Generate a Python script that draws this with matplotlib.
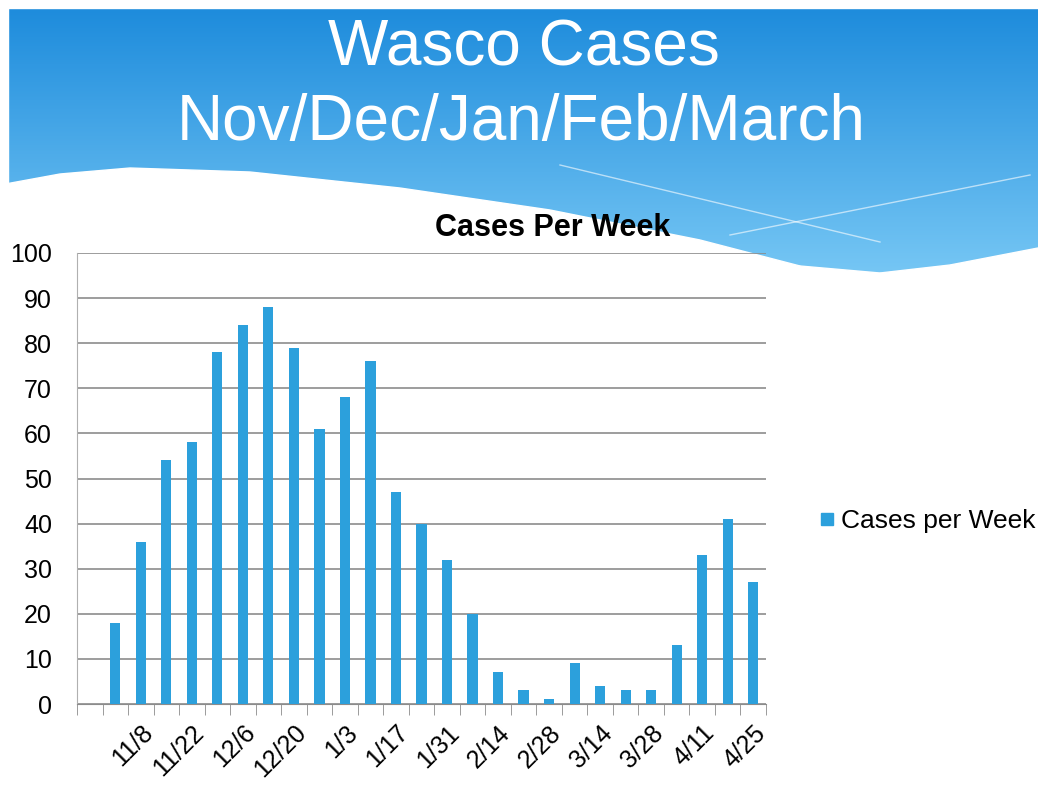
import numpy as np
import matplotlib.pyplot as plt
from matplotlib.lines import Line2D

plt.rcParams['font.family'] = ['Liberation Sans', 'DejaVu Sans']

# weekly data (first slot is empty in the source chart)
weeks = ["", "11/1", "11/8", "11/15", "11/22", "11/29", "12/6", "12/13", "12/20",
         "12/27", "1/3", "1/10", "1/17", "1/24", "1/31", "2/7", "2/14", "2/21",
         "2/28", "3/7", "3/14", "3/21", "3/28", "4/4", "4/11", "4/18", "4/25"]
cases = [0, 18, 36, 54, 58, 78, 84, 88, 79, 61, 68, 76, 47, 40, 32, 20, 7, 3,
         1, 9, 4, 3, 3, 13, 33, 41, 27]
yticks = [0, 10, 20, 30, 40, 50, 60, 70, 80, 90, 100]

W, H = 1038, 787
fig = plt.figure(figsize=(W / 100, H / 100), dpi=100)

# ---- slide background ----
bg = fig.add_axes([0, 0, 1, 1])
bg.set_xlim(0, W)
bg.set_ylim(H, 0)
bg.axis('off')

yy, xx = np.mgrid[0:H, 0:W]
top = np.array([30, 140, 220]) / 255
bot = np.array([120, 200, 245]) / 255
t = np.clip((yy - 10) / 270.0, 0, 1)[..., None]
grad = top * (1 - t) + bot * t
bg.imshow(grad, extent=[0, W, H, 0], aspect='auto', zorder=0)

wx = np.array([0, 60, 130, 250, 400, 550, 700, 800, 880, 950, 1038])
wy = np.array([185, 174, 168, 172, 188, 210, 240, 266, 273, 265, 248])
xs = np.linspace(0, W, 400)
ys = np.interp(xs, wx, wy)
bg.fill_between(xs, ys, H, color='white', zorder=1)
# slide frame edges
bg.fill_between([0, W], 0, 8, color='white', zorder=2)
bg.fill_between([0, 8], 0, H, color='white', zorder=2)
# faint crossing lines on the right
bg.plot([560, 880], [165, 242], color='white', lw=1, alpha=0.6, zorder=2)
bg.plot([730, 1030], [235, 175], color='white', lw=1, alpha=0.6, zorder=2)

fig.text(0.505, 1 - 48 / H, "Wasco Cases", color='white', fontsize=46,
         ha='center', va='center')
fig.text(0.502, 1 - 123 / H, "Nov/Dec/Jan/Feb/March", color='white', fontsize=46,
         ha='center', va='center')

# ---- chart ----
ax = fig.add_axes([77 / W, 1 - 704 / H, 689 / W, 451 / H])
ax.patch.set_alpha(0)
x = np.arange(len(weeks))
ax.bar(x, cases, width=0.4, color='#2ca0dc', zorder=3, label='Cases per Week')

ax.set_xlim(-0.5, len(weeks) - 0.5)
ax.set_ylim(0, 100)
ax.set_yticks(yticks)
ax.tick_params(axis='y', length=0, labelsize=18, pad=18)
ax.yaxis.grid(True, color='#8c8c8c', lw=1.2, zorder=0)

ax.set_xticks(x[2::2])
ax.set_xticklabels(weeks[2::2], rotation=45, ha='right', rotation_mode='anchor',
                   fontsize=18)
ax.tick_params(axis='x', length=0, pad=12)
ax.set_xticks(np.arange(-0.5, len(weeks), 1), minor=True)
ax.tick_params(axis='x', which='minor', length=8, color='#8c8c8c', direction='out')

for s in ['top', 'right']:
    ax.spines[s].set_visible(False)
ax.spines['left'].set_color('#b0b0b0')
ax.spines['bottom'].set_color('#8c8c8c')

ax.set_title("Cases Per Week", fontsize=22, fontweight='bold', pad=12, x=0.69)

handle = Line2D([], [], marker='s', color='#2ca0dc', ls='none', markersize=9)
fig.legend([handle], ['Cases per Week'], loc='center left',
           bbox_to_anchor=(790 / W, 1 - 521 / H), frameon=False, fontsize=19,
           handletextpad=0.05, handlelength=1)

fig.savefig('out.png', dpi=100)
